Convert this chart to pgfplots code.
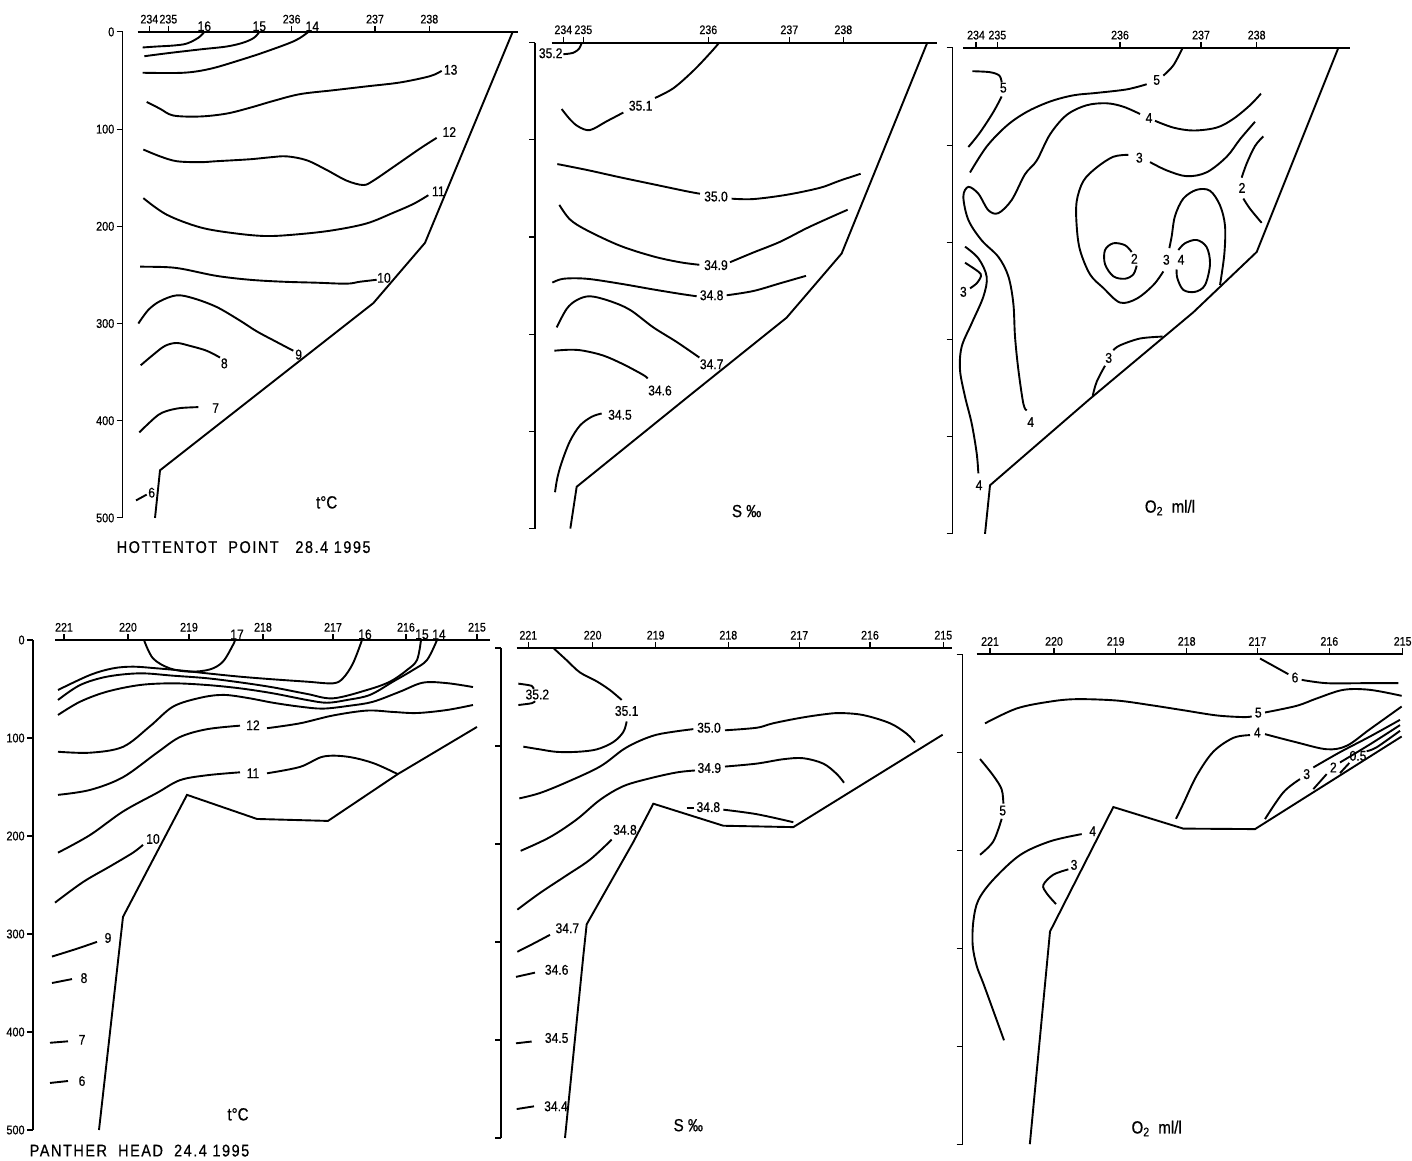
\documentclass[border=0pt]{standalone}
\usepackage{fontspec}
\setmainfont{Liberation Sans}[FakeStretch=0.86, FakeBold=0.6]
\usepackage{pgfplots}
\pgfplotsset{compat=1.18}
\tikzset{lab/.style={font=\fontsize{10}{11}\selectfont, inner sep=1pt},
         big/.style={font=\fontsize{12.5}{13}\selectfont, inner sep=1pt}}
\pgfplotsset{
  panel/.style={
    anchor=north west,
    y dir=reverse, ymin=0, ymax=500,
    axis x line*=top, axis y line*=left,
    x axis line style={draw=none},
    y axis line style={-, line width=0.9pt},
    ytick={0,100,200,300,400,500}, yticklabels={},
    tick align=outside, major tick length=1.5mm,
    tick style={line width=0.8pt, black},
    xticklabel style={font=\fontsize{8.8}{10}\selectfont, inner sep=1.5pt},
    yticklabel style={font=\fontsize{9}{10}\selectfont, inner sep=1.5pt},
    clip=false,
    cycle list={{black, mark=none}},
    every axis plot/.append style={line width=1.35pt, black, mark=none},
  },
  toprow/.style={y=0.243mm, x=0.083333mm},
  botrow/.style={y=0.245mm, x=0.083333mm},
  cont/.style={smooth, tension=0.55},
}
\begin{document}
\begin{tikzpicture}
\useasboundingbox (0,0) rectangle (353mm,-290mm);

% ---------------- HOTTENTOT POINT : temperature
\begin{axis}[panel, toprow, at={(30.67mm,-7.98mm)}, xmin=68, xmax=1265,
  xtick={148,205,575,825,988}, xticklabels={234,235,236,237,238},
  yticklabels={0,100,200,300,400,500}]
\addplot coordinates {(113,0)(1255,0)};
\addplot[sharp plot] coordinates {(1238,0)(975,217)(820,279)(180,451)(165,500)};
\addplot[cont] coordinates {(313,0)(295,6)(260,12)(220,14)(170,15)(128,16)};
\addplot[cont] coordinates {(478,0)(462,6)(430,11)(380,15)(300,18)(200,22)(133,25)};
\addplot[cont] coordinates {(625,0)(585,9)(500,20)(420,29)(330,38)(250,42)(128,42)};
\addplot[cont] coordinates {(1025,40)(990,45.5)(900,52)(800,56)(700,60)(600,64)(520,71)(450,78)(380,84)(300,87)(220,86)(180,79)(140,72)};
\addplot[cont] coordinates {(1010,109)(960,120)(880,139)(820,153)(790,157.5)(740,153)(680,142)(620,132)(560,128)(510,129)(450,131)(350,133)(300,134)(230,133)(180,128)(130,121)};
\addplot[cont] coordinates {(985,168)(940,177)(880,186)(800,197)(700,204)(600,208)(500,210)(400,207)(300,201)(200,188)(130,171)};
\addplot[cont] coordinates {(830,255)(780,257)(740,259)(650,258)(550,257)(450,255)(350,251)(250,244)(200,242)(120,241.5)};
\addplot[cont] coordinates {(580,328)(530,319)(470,308)(420,297)(350,283)(280,274)(230,271)(180,277)(145,286)(115,300)};
\addplot[cont] coordinates {(360,335)(320,328)(270,323)(230,320)(195,323)(160,332)(122,343)};
\addplot[cont] coordinates {(295,386)(240,387)(200,390)(175,394)(145,403)(118,412)};
\addplot[cont] coordinates {(108,482)(140,476)};
\node[lab,anchor=south] at (axis cs:313,1) {16};
\node[lab,anchor=south] at (axis cs:478,1) {15};
\node[lab,anchor=south] at (axis cs:637,1) {14};
\node[lab] at (axis cs:1052,39) {13};
\node[lab] at (axis cs:1048,103) {12};
\node[lab] at (axis cs:1015,164) {11};
\node[lab] at (axis cs:852,253) {10};
\node[lab] at (axis cs:596,332) {9};
\node[lab] at (axis cs:373,341) {8};
\node[lab] at (axis cs:347,387) {7};
\node[lab] at (axis cs:155,474) {6};
\node[big] at (axis cs:680,484) {t°C};
\node[big,anchor=west,font=\fontsize{12}{13}\selectfont\addfontfeatures{LetterSpace=9}] at (axis cs:45,530) {HOTTENTOT\ \ POINT\ \ \ 28.4 1995};
\end{axis}

% ---------------- HOTTENTOT POINT : salinity
\begin{axis}[panel, toprow, at={(133.75mm,-10.64mm)}, xmin=45, xmax=1260,
  xtick={130,190,565,808,970}, xticklabels={234,235,236,237,238}]
\addplot coordinates {(95,0)(1250,0)};
\addplot[sharp plot] coordinates {(1222,0)(965,217)(800,283)(520,360)(170,457)(151,500)};
\addplot[cont] coordinates {(185,0)(178,6)(160,10.5)(130,12)};
\addplot[cont] coordinates {(598,0)(570,11)(520,29)(460,47)(405,57)};
\addplot[cont] coordinates {(310,72)(260,81)(210,90)(175,86.4)(150,79)(125,68.4)};
\addplot[cont] coordinates {(112,125)(200,131)(300,138.6)(400,145.8)(500,153)(540,155.5)};
\addplot[cont] coordinates {(635,160.6)(700,161)(800,156.6)(900,149.4)(960,142)(1022,135)};
\addplot[cont] coordinates {(118,167)(150,182)(200,193)(300,209)(400,220)(480,226)(538,228.6)};
\addplot[cont] coordinates {(630,226)(700,216)(780,205)(860,191)(930,180)(983,172)};
\addplot[cont] coordinates {(97,247)(130,243)(200,243)(300,248)(400,254)(480,258.5)(530,261)};
\addplot[cont] coordinates {(620,260)(700,255.6)(780,247.7)(858,240)};
\addplot[cont] coordinates {(538,324)(470,308)(400,293)(330,275)(270,266)(210,261)(170,265)(140,274)(110,293)};
\addplot[cont] coordinates {(383,345.6)(370,342)(310,331)(250,322)(190,317)(150,316)(103,317)};
\addplot[cont] coordinates {(245,381.6)(215,385)(180,394)(150,410)(125,432)(112,448)(105,462.6)};
\node[lab] at (axis cs:92,11) {35.2};
\node[lab] at (axis cs:362,65) {35.1};
\node[lab] at (axis cs:588,158.4) {35.0};
\node[lab] at (axis cs:588,229) {34.9};
\node[lab] at (axis cs:575,260) {34.8};
\node[lab] at (axis cs:575,331) {34.7};
\node[lab] at (axis cs:420,358) {34.6};
\node[lab] at (axis cs:300,383) {34.5};
\node[big] at (axis cs:680,482) {S ‰};
\end{axis}

% ---------------- HOTTENTOT POINT : oxygen
\begin{axis}[panel, toprow, at={(238.17mm,-11.97mm)}, xmin=38, xmax=1240,
  xtick={108,172,540,783,950}, xticklabels={234,235,236,237,238}]
\addplot coordinates {(70,0)(1230,0)};
\addplot[sharp plot] coordinates {(1195,0)(950,210)(760,272)(450,361)(150,450)(135,500)};
\addplot[cont] coordinates {(97,24)(150,25)(178,28.5)(185,35.6)};
\addplot[cont] coordinates {(185,50)(160,66)(120,87)(85,102)};
\addplot[cont] coordinates {(728,0)(700,18)(670,28.5)};
\addplot[cont] coordinates {(620,37.4)(560,42.7)(470,46.3)(400,48.8)(330,55.2)(260,65.9)(200,80.1)(140,101.5)(90,128.2)};
\addplot[cont] coordinates {(963,47)(930,59)(880,73)(830,82)(760,85)(700,82)(645,75)};
\addplot[cont] coordinates {(600,68)(550,60.5)(500,57)(440,59)(380,69)(330,89)(290,116)(255,130)(215,156.5)(175,170)(145,167)(115,150)(85,143)(70,153)(85,177)(125,198)(175,215)(205,235)(220,263)(225,297)(235,331)(250,366)(260,373)};
\addplot[cont] coordinates {(945,76)(900,94)(860,112)(800,128)(740,132)(680,126)(630,117.5)};
\addplot[cont] coordinates {(565,110)(520,112)(470,123)(430,137)(410,158)(410,183)(420,208)(450,233)(490,247)(540,262)(590,258)(640,244)(670,230)};
\addplot[cont] coordinates {(688,206)(695,194)(705,173)(730,155)(770,146)(810,147)(840,162)(855,183)(853,212)(840,244)};
\addplot[cont] coordinates {(715,208)(735,201)(770,197.6)(800,205)(810,222.5)(795,244)(765,251)(730,249)(712,237)(710,228)};
\addplot[cont] coordinates {(590,224)(580,233)(555,237.5)(520,235)(495,222.5)(495,208)(520,201)(555,203)(575,210)};
\addplot[cont] coordinates {(970,91)(945,101)(920,119)(905,133.5)};
\addplot[cont] coordinates {(910,155)(930,165.5)(965,180)};
\addplot[cont] coordinates {(75,221)(115,230.2)(123,234.7)(110,242.2)(90,247.4)};
\addplot[cont] coordinates {(75,204.5)(115,216.5)(140,235.4)(130,256)(95,283.4)(65,307.4)(60,331.4)(75,358.8)(95,386.3)(110,417)(115,437.7)};
\addplot[cont] coordinates {(668,297)(600,299)(540,306)(520,311)};
\addplot[cont] coordinates {(495,327)(470,343.5)(458,358)};
\node[lab] at (axis cs:190,41) {5};
\node[lab] at (axis cs:650,33) {5};
\node[lab] at (axis cs:627,72) {4};
\node[lab] at (axis cs:272,385) {4};
\node[lab] at (axis cs:598,113) {3};
\node[lab] at (axis cs:679,218) {3};
\node[lab] at (axis cs:723,218) {4};
\node[lab] at (axis cs:583,217) {2};
\node[lab] at (axis cs:906,144) {2};
\node[lab] at (axis cs:70,251) {3};
\node[lab] at (axis cs:117,450) {4};
\node[lab] at (axis cs:506,319) {3};
\node[big] at (axis cs:690,473) {O\textsubscript{2}\ \ ml/l};
\end{axis}

% ---------------- PANTHER HEAD : temperature
\begin{axis}[panel, botrow, x=0.25mm, at={(8.25mm,-160mm)}, xmin=33, xmax=492,
  xtick={64,128,189,263,333,406,477}, xticklabels={221,220,219,218,217,216,215},
  yticklabels={0,100,200,300,400,500}]
\addplot coordinates {(55,0)(490,0)};
\addplot[sharp plot] coordinates {(477,88.7)(398,136.7)(328,184.6)(257,182.6)(187,158)(123,282.5)(99,500)};
\addplot[cont] coordinates {(144,0)(153,18.7)(170,29)(190,32.3)(210,30)(223,22)(233,5)(235,0)};
\addplot[cont] coordinates {(362,0)(353,23.8)(343,39)(333,44.2)(307,42.5)(273,40.1)(240,37.4)(207,34)(183,31.3)(157,28.9)(133,27.2)(113,28.9)(90,35.7)(58,51)};
\addplot[cont] coordinates {(421,0)(417,20.4)(407,30.6)(390,42.5)(367,51)(333,59.5)(307,55)(273,48.3)(240,43.2)(207,39)(173,36.4)(140,34)(107,37.4)(80,46)(58,61.2)};
\addplot[cont] coordinates {(437,0)(427,20.4)(413,30.6)(393,42.5)(370,56)(347,61.2)(327,64)(307,61.2)(273,54.4)(240,49.3)(207,45.9)(173,44.2)(140,45.9)(107,52.7)(80,63)(58,76.5)};
\addplot[cont] coordinates {(58,114)(90,115)(123,109)(150,88)(173,68)(200,59)(223,56)(247,59)(273,64)(300,68)(323,70)(350,67)(373,63)(400,52.7)(423,43.5)(447,44)(473,48)};
\addplot[cont] coordinates {(58,158)(90,153)(123,140)(157,115)(180,99)(207,91)(240,87.4)};
\addplot[cont] coordinates {(267,90)(300,85)(333,77)(367,72)(393,73.4)(417,74.5)(447,71.4)(473,66.3)};
\addplot[cont] coordinates {(58,217)(90,199)(123,175)(157,156)(180,143)(207,138)(240,135)};
\addplot[cont] coordinates {(267,136)(300,129.5)(323,119)(347,119)(373,125.5)(398,137)};
\addplot[cont] coordinates {(55,268)(83,247)(110,231)(133,217)(143,209)};
\addplot[cont] coordinates {(52,323)(77,315)(97,308)};
\addplot[cont] coordinates {(52,350)(72,346)};
\addplot[cont] coordinates {(50,411)(68,409.5)};
\addplot[cont] coordinates {(50,452)(68,450)};
\node[lab,anchor=south] at (axis cs:237,1) {17};
\node[lab,anchor=south] at (axis cs:365,1) {16};
\node[lab,anchor=south] at (axis cs:422,1) {15};
\node[lab,anchor=south] at (axis cs:439,1) {14};
\node[lab] at (axis cs:253,87) {12};
\node[lab] at (axis cs:253,136) {11};
\node[lab] at (axis cs:153,203) {10};
\node[lab] at (axis cs:108,304) {9};
\node[lab] at (axis cs:84,345) {8};
\node[lab] at (axis cs:82,408) {7};
\node[lab] at (axis cs:82,450) {6};
\node[big] at (axis cs:238,484) {t°C};
\node[big,anchor=west,font=\fontsize{12}{13}\selectfont\addfontfeatures{LetterSpace=9}] at (axis cs:28,521) {PANTHER\ \ HEAD\ \ 24.4 1995};
\end{axis}

% ---------------- PANTHER HEAD : salinity
\begin{axis}[panel, botrow, at={(125.25mm,-161.99mm)}, xmin=33, xmax=1390,
  xtick={115,308,497,715,928,1140,1360}, xticklabels={221,220,219,218,217,216,215}]
\addplot coordinates {(80,0)(1385,0)};
\addplot[sharp plot] coordinates {(1358,88.5)(910,182.8)(700,181.4)(490,158.9)(430,198)(290,282)(280,314)(225,500)};
\addplot[cont] coordinates {(85,36.4)(125,38.6)(130,42)};
\addplot[cont] coordinates {(85,58.2)(125,56.4)(135,54.3)};
\addplot[cont] coordinates {(190,0)(230,12.5)(270,25)(320,34)(360,43)(395,53)};
\addplot[cont] coordinates {(410,75)(400,85.7)(370,96)(320,103.5)(260,106)(200,106)(150,103.5)(100,100.7)};
\addplot[cont] coordinates {(88,153.5)(150,148)(230,137)(330,121)(400,103.5)(450,94.6)(500,88.5)(560,85)(610,82.8)};
\addplot[cont] coordinates {(705,84)(800,81.4)(850,76.8)(930,71.4)(1000,67.8)(1050,66.4)(1120,68.5)(1200,76.8)(1250,87.5)(1275,96.4)};
\addplot[cont] coordinates {(92,207)(180,193)(260,175)(330,155)(400,141)(480,133)(560,127)(615,125)};
\addplot[cont] coordinates {(705,121)(800,118)(880,113.5)(940,112.5)(1000,118)(1040,128.5)(1062,137.5)};
\addplot[cont] coordinates {(590,163.5)(612,163.5)};
\addplot[cont] coordinates {(700,165)(800,169.6)(910,177.8)};
\addplot[cont] coordinates {(82,267)(150,250)(230,232)(300,216)(365,195.6)};
\addplot[cont] coordinates {(82,310)(130,301.7)(180,292.7)};
\addplot[cont] coordinates {(78,335.6)(135,331.3)};
\addplot[cont] coordinates {(78,403.4)(125,401.6)};
\addplot[cont] coordinates {(80,470.5)(132,467.7)};
\node[lab] at (axis cs:142,47.5) {35.2};
\node[lab] at (axis cs:410,64.3) {35.1};
\node[lab] at (axis cs:657,81.4) {35.0};
\node[lab] at (axis cs:658,122.5) {34.9};
\node[lab] at (axis cs:655,162.4) {34.8};
\node[lab] at (axis cs:405,185.6) {34.8};
\node[lab] at (axis cs:232,286) {34.7};
\node[lab] at (axis cs:200,328.4) {34.6};
\node[lab] at (axis cs:200,398) {34.5};
\node[lab] at (axis cs:198,467.7) {34.4};
\node[big] at (axis cs:595,487) {S ‰};
\end{axis}

% ---------------- PANTHER HEAD : oxygen
\begin{axis}[panel, botrow, at={(240.67mm,-163.54mm)}, xmin=38, xmax=1370,
  xtick={120,312,497,710,922,1138,1358}, xticklabels={221,220,219,218,217,216,215}]
\addplot coordinates {(80,0)(1360,0)};
\addplot[sharp plot] coordinates {(1355,84)(915,178.5)(700,178)(490,156)(300,283)(239.5,500)};
\addplot[cont] coordinates {(930,4.4)(970,11.9)(1015,20.4)};
\addplot[cont] coordinates {(1055,26.2)(1130,29.6)(1240,29.6)(1345,29.6)};
\addplot[cont] coordinates {(105,70.6)(200,55.4)(300,48.4)(380,45.9)(500,47.3)(600,51.9)(700,57.2)(800,62.5)(880,64.2)(905,63.5)};
\addplot[cont] coordinates {(945,59.5)(1040,52.7)(1100,45.2)(1180,36.4)(1260,36.4)(1355,42.5)};
\addplot[cont] coordinates {(678,168)(700,152.5)(740,124)(790,99.5)(850,85.4)(900,82.6)};
\addplot[cont] coordinates {(945,81.6)(1040,90)(1130,97)(1190,93.5)(1260,76.5)(1355,53.4)};
\addplot[cont] coordinates {(945,168.3)(1000,141)(1050,127.5)};
\addplot[cont] coordinates {(1090,115.6)(1170,100)(1260,84)(1350,67)};
\addplot[cont] coordinates {(1090,137.7)(1130,122.4)};
\addplot[cont] coordinates {(1170,110.5)(1260,92)(1350,72.4)};
\addplot[cont] coordinates {(1170,121.4)(1198,111)};
\addplot[cont] coordinates {(1250,99)(1280,95)(1350,78.2)};
\addplot[cont] coordinates {(90,107)(130,124)(155,138)(160,152.5)};
\addplot[cont] coordinates {(155,168)(130,191)(90,204.7)};
\addplot[cont] coordinates {(395,183.6)(300,191)(210,205)(130,230)(85,251)(70,272.5)(68,297)(80,318)(100,336)(130,364)(162,394)};
\addplot[cont] coordinates {(355,219.6)(310,225)(280,235.5)(290,244)(318,255)};
\node[lab] at (axis cs:1035,23.8) {6};
\node[lab] at (axis cs:925,59.7) {5};
\node[lab] at (axis cs:922,80) {4};
\node[lab] at (axis cs:1070,122.4) {3};
\node[lab] at (axis cs:1150,115.6) {2};
\node[lab] at (axis cs:1224,103.7) {0.5};
\node[lab] at (axis cs:158,159.6) {5};
\node[lab] at (axis cs:428,180.7) {4};
\node[lab] at (axis cs:372,215) {3};
\node[big] at (axis cs:620,484) {O\textsubscript{2}\ \ ml/l};
\end{axis}
\end{tikzpicture}
\end{document}
